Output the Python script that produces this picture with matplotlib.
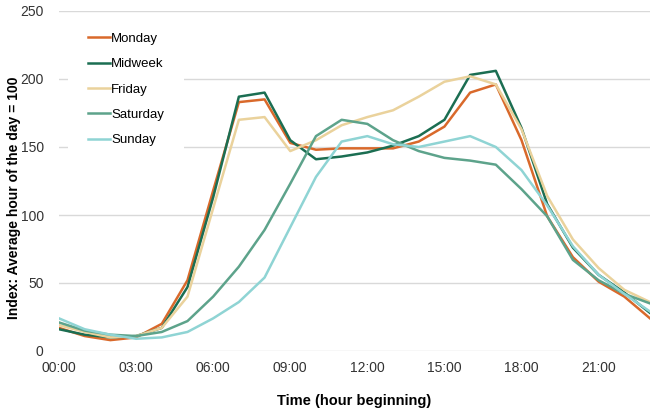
import matplotlib.pyplot as plt
import numpy as np

plt.rcParams['font.family'] = ['Liberation Sans', 'DejaVu Sans']

hours = np.arange(24)
tick_labels = ["00:00", "03:00", "06:00", "09:00", "12:00", "15:00", "18:00", "21:00"]

monday = [17, 11, 8, 10, 20, 52, 118, 183, 185, 153, 148, 149, 149, 149, 154, 165, 190, 196, 155, 99, 69, 51, 40, 24]
midweek = [16, 12, 10, 11, 17, 47, 113, 187, 190, 155, 141, 143, 146, 151, 158, 170, 203, 206, 164, 108, 76, 56, 43, 28]
friday = [19, 14, 10, 11, 17, 40, 105, 170, 172, 147, 155, 166, 172, 177, 187, 198, 202, 196, 163, 114, 82, 61, 45, 36]
saturday = [21, 15, 12, 11, 14, 22, 40, 62, 89, 123, 158, 170, 167, 155, 147, 142, 140, 137, 119, 99, 67, 52, 42, 35]
sunday = [24, 16, 12, 9, 10, 14, 24, 36, 54, 91, 128, 154, 158, 152, 150, 154, 158, 150, 133, 107, 77, 56, 42, 29]

series = [("Monday", monday, "#d9692b"),
          ("Midweek", midweek, "#1b6e52"),
          ("Friday", friday, "#ead29c"),
          ("Saturday", saturday, "#5da38b"),
          ("Sunday", sunday, "#8fd4d4")]

fig = plt.figure(figsize=(6.58, 4.08), dpi=100)
ax = fig.add_axes([59/658, 1-351/408, (650-59)/658, (351-11)/408])

for name, vals, col in series:
    ax.plot(hours, vals, color=col, lw=1.8, label=name)

ax.set_xlim(0, 23)
ax.set_ylim(0, 250)
ax.set_xticks(np.arange(0, 24, 3))
ax.set_xticklabels(tick_labels)
ax.set_yticks([0, 50, 100, 150, 200, 250])
ax.grid(axis="y", color="#d9d9d9", lw=1)
ax.set_axisbelow(True)
for s in ax.spines.values():
    s.set_visible(False)
ax.tick_params(length=0, labelsize=10, colors="#333333", pad=7)
ax.tick_params(axis="y", pad=11)

ax.set_xlabel("Time (hour beginning)", fontsize=10.5, fontweight="bold", labelpad=14)
ax.set_ylabel("Index: Average hour of the day = 100", fontsize=10, fontweight="bold")
ax.yaxis.set_label_coords(-38/591, 0.45)

leg = ax.legend(loc="upper left", bbox_to_anchor=(0.035, 0.96), frameon=True, fontsize=9.5,
                handlelength=1.7, handletextpad=0.1, labelspacing=1.0, borderaxespad=0,
                borderpad=0.6)
leg.get_frame().set_facecolor("white")
leg.get_frame().set_edgecolor("none")
leg.get_frame().set_alpha(1)
leg.get_frame().set_boxstyle("square", pad=0.9)

fig.savefig("out.png", dpi=100)
